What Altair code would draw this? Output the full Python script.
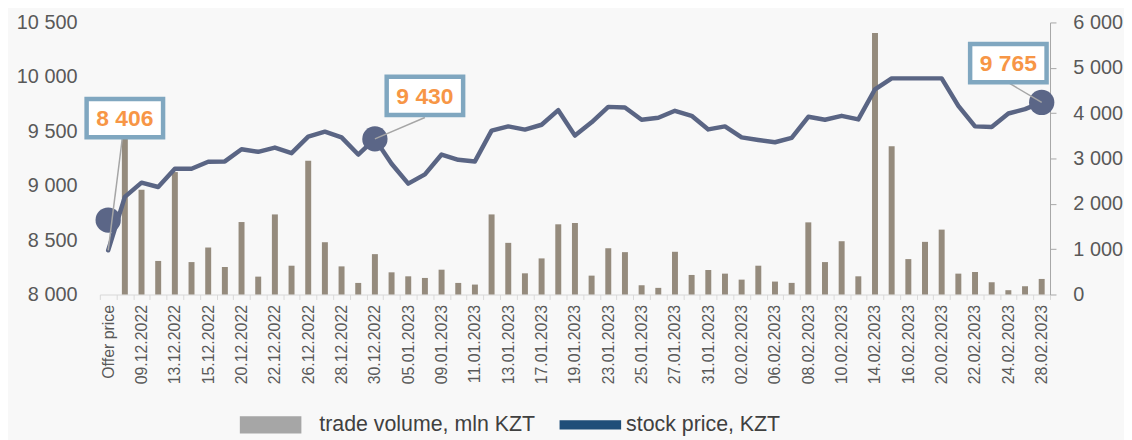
import json
import altair as alt
import pandas as pd

# ---------------- data ----------------
categories = [
    "Offer price", "08.12.2022", "09.12.2022", "12.12.2022", "13.12.2022", "14.12.2022",
    "15.12.2022", "19.12.2022", "20.12.2022", "21.12.2022", "22.12.2022", "23.12.2022",
    "26.12.2022", "27.12.2022", "28.12.2022", "29.12.2022", "30.12.2022", "04.01.2023",
    "05.01.2023", "06.01.2023", "09.01.2023", "10.01.2023", "11.01.2023", "12.01.2023",
    "13.01.2023", "16.01.2023", "17.01.2023", "18.01.2023", "19.01.2023", "20.01.2023",
    "23.01.2023", "24.01.2023", "25.01.2023", "26.01.2023", "27.01.2023", "30.01.2023",
    "31.01.2023", "01.02.2023", "02.02.2023", "03.02.2023", "06.02.2023", "07.02.2023",
    "08.02.2023", "09.02.2023", "10.02.2023", "13.02.2023", "14.02.2023", "15.02.2023",
    "16.02.2023", "17.02.2023", "20.02.2023", "21.02.2023", "22.02.2023", "23.02.2023",
    "24.02.2023", "27.02.2023", "28.02.2023",
]

tick_labels = [
    "Offer price", "09.12.2022", "13.12.2022", "15.12.2022", "20.12.2022", "22.12.2022",
    "26.12.2022", "28.12.2022", "30.12.2022", "05.01.2023", "09.01.2023", "11.01.2023",
    "13.01.2023", "17.01.2023", "19.01.2023", "23.01.2023", "25.01.2023", "27.01.2023",
    "31.01.2023", "02.02.2023", "06.02.2023", "08.02.2023", "10.02.2023", "14.02.2023",
    "16.02.2023", "20.02.2023", "22.02.2023", "24.02.2023", "28.02.2023",
]

stock_price = [
    8406, 8897, 9028, 8988, 9156, 9156, 9220, 9223, 9335, 9311, 9350, 9299,
    9451, 9496, 9444, 9286, 9430, 9201, 9019, 9104, 9286, 9238, 9223, 9506,
    9545, 9515, 9560, 9694, 9460, 9582, 9724, 9718, 9606, 9624, 9688, 9642,
    9517, 9545, 9444, 9420, 9399, 9439, 9633, 9606, 9642, 9609, 9886, 9986,
    9986, 9986, 9986, 9734, 9545, 9540, 9663, 9703, 9765,
]

trade_volume = [
    None, 3800, 2310, 740, 2700, 715, 1036, 606, 1598, 394, 1766, 635,
    2949, 1153, 620, 255, 890, 489, 401, 365, 547, 255, 219, 1766,
    1139, 467, 796, 1548, 1577, 416, 1022, 934, 204, 146, 942, 431,
    540, 460, 328, 635, 285, 256, 1591, 715, 1175, 401, 5766, 3270,
    781, 1161, 1431, 460, 496, 270, 95, 182, 343,
]

left_ticks = [8000, 8500, 9000, 9500, 10000, 10500]
right_ticks = [0, 1000, 2000, 3000, 4000, 5000, 6000]

# callouts
callout_values = [8406, 9430, 9765]
box_cat = ["08.12.2022", "06.01.2023", "24.02.2023"]
box_price = [9620, 9825, 10126]
marker_cat = ["Offer price", "30.12.2022", "28.02.2023"]
marker_price = [8684, 9430, 9765]
leader_group = ["a", "a", "b", "b", "c", "c"]
leader_cat = ["08.12.2022", "Offer price", "06.01.2023", "30.12.2022", "24.02.2023", "28.02.2023"]
leader_price = [9620, 8406, 9627, 9430, 9946, 9765]

legend_labels = ["trade volume, mln KZT", "stock price, KZT"]

SEP = " "

# ---------------- tables ----------------
df = pd.DataFrame({"cat": categories, "price": stock_price, "volume": trade_volume})
box_df = pd.DataFrame({
    "cat": box_cat, "price": box_price,
    "label": [f"{v:,}".replace(",", SEP) for v in callout_values],
})
marker_df = pd.DataFrame({"cat": marker_cat, "price": marker_price})
leader_df = pd.DataFrame({"grp": leader_group, "cat": leader_cat, "price": leader_price})
legend_df = pd.DataFrame({"series": legend_labels})

FONT = "Liberation Sans"
LABEL_COLOR = "#595959"
FMT = "replace(format(datum.value, ','), ',', '" + SEP + "')"

x_axis = alt.Axis(
    title=None, labelAngle=270, labelFontSize=16, labelColor=LABEL_COLOR, labelFont=FONT,
    labelPadding=5, tickSize=5, tickColor="#d9d9d9", domainColor="#d9d9d9",
    tickBand="extent", grid=False, labelOverlap=False,
    labelExpr=f"indexof({json.dumps(tick_labels)}, datum.value) >= 0 ? datum.label : ''",
)
x_scale = alt.Scale(domain=categories, paddingInner=0, paddingOuter=0)


def xenc():
    return alt.X("cat:N", sort=categories, scale=x_scale, axis=x_axis)


left_scale = alt.Scale(domain=[8000, 10500], nice=False, zero=False)
left_axis = alt.Axis(
    title=None, values=left_ticks, labelExpr=FMT, labelFontSize=20,
    labelColor=LABEL_COLOR, labelFont=FONT, labelPadding=23, ticks=False,
    domain=False, grid=False,
)


def yleft():
    return alt.Y("price:Q", scale=left_scale, axis=left_axis)


bars = alt.Chart(df).mark_bar(size=6, color="#958b7d").encode(
    x=xenc(),
    y=alt.Y(
        "volume:Q",
        scale=alt.Scale(domain=[0, 6000], nice=False),
        axis=alt.Axis(
            orient="right", title=None, values=right_ticks, labelExpr=FMT,
            labelFontSize=20, labelColor=LABEL_COLOR, labelFont=FONT, labelPadding=17,
            tickSize=6, tickColor="#a6a6a6", domainColor="#a6a6a6", grid=False,
        ),
    ),
)

line = alt.Chart(df).mark_line(
    color="#5a6584", strokeWidth=4.5, strokeJoin="round", strokeCap="round"
).encode(x=xenc(), y=yleft())

markers = alt.Chart(marker_df).mark_circle(size=650, color="#5b6687", opacity=1).encode(
    x=xenc(), y=yleft()
)

leaders = alt.Chart(leader_df).mark_line(color="#a6a6a6", strokeWidth=1.5).encode(
    x=xenc(), y=yleft(), detail="grp:N"
)

BOX = "M-1,-0.5L1,-0.5L1,0.5L-1,0.5Z"
boxes = alt.Chart(box_df).mark_point(
    shape=BOX, size=5929, filled=True, fill="white", stroke="#80a7c0",
    strokeWidth=4.5, opacity=1, fillOpacity=1, strokeOpacity=1,
).encode(x=xenc(), y=yleft())

texts = alt.Chart(box_df).mark_text(
    font=FONT, fontSize=23, fontWeight="bold", color="#f79646", baseline="middle", dy=1
).encode(x=xenc(), y=yleft(), text="label:N")

leg = alt.Legend(
    title=None, orient="none", legendX=141, legendY=374, direction="horizontal",
    symbolSize=3844, labelFontSize=21.5, labelColor="#404040", labelFont=FONT,
    labelLimit=400, columnPadding=11, labelOffset=18, symbolOpacity=1,
    symbolStrokeWidth=0, padding=0,
)
dummy = alt.Chart(legend_df).mark_point(filled=True, opacity=0).encode(
    color=alt.Color("series:N", scale=alt.Scale(domain=legend_labels, range=["#a6a6a6", "#1f4e79"]), legend=leg),
    shape=alt.Shape(
        "series:N",
        scale=alt.Scale(
            domain=legend_labels,
            range=["M-1,-0.28L1,-0.28L1,0.28L-1,0.28Z", "M-0.58,-0.15L1.42,-0.15L1.42,0.15L-0.58,0.15Z"],
        ),
        legend=leg,
    ),
)

inner = alt.layer(line, markers, leaders, boxes, texts, dummy)

chart = (
    alt.layer(bars, inner)
    .resolve_scale(y="independent")
    .properties(
        width=957, height=274,
        padding={"left": 92.5, "top": 13, "right": 74.5, "bottom": 145},
        autosize=alt.AutoSizeParams(type="none"),
        background="#f8f8f8",
    )
    .configure_view(stroke=None)
)

chart.save("out.html", embed_options={"renderer": "svg", "actions": False})
